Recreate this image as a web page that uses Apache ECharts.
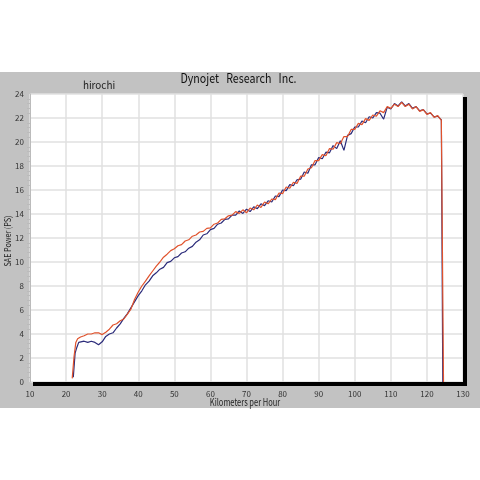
<!DOCTYPE html>
<html>
<head>
<meta charset="utf-8">
<script src="https://cdn.jsdelivr.net/npm/echarts@6/dist/echarts.min.js"></script>
<style>html,body{margin:0;padding:0;background:#fff;}#c{width:480px;height:480px;}</style>
</head>
<body>
<div id="c"></div>
<script>
var titleText = 'Dynojet   Research   Inc.';
var runName = 'hirochi';
var xName = 'Kilometers per Hour';
var yName = 'SAE Power (PS)';
var xTicks = [10, 20, 30, 40, 50, 60, 70, 80, 90, 100, 110, 120, 130];
var yTicks = [0, 2, 4, 6, 8, 10, 12, 14, 16, 18, 20, 22, 24];

var redSpeed = [21.7, 22.2, 22.7, 23.2, 24, 25, 26, 27, 28, 29, 30, 31, 32, 33, 34, 35, 36, 37, 38, 39,
  40, 41, 42, 43, 44, 45, 46, 47, 48, 49, 50, 51, 52, 53, 54, 55, 56, 57, 58, 59,
  60, 61, 62, 63, 64, 65, 66, 67, 68, 69, 70, 71, 72, 73, 74, 75, 76, 77, 78, 79,
  80, 81, 82, 83, 84, 85, 86, 87, 88, 89, 90, 91, 92, 93, 94, 95, 96, 97, 98, 99,
  100, 101, 102, 103, 104, 105, 106, 107, 108, 109, 110, 111, 112, 113, 114, 115, 116, 117, 118, 119,
  120, 121, 122, 123, 124, 124.3, 124.6];
var redPower = [0.3, 2.1, 3.3, 3.6, 3.75, 3.85, 4.0, 4.0, 4.1, 4.1, 3.95, 4.15, 4.4, 4.75, 4.85, 5.1, 5.25, 5.65, 6.1, 6.9,
  7.5, 8.0, 8.4, 8.85, 9.25, 9.65, 10.0, 10.4, 10.65, 10.95, 11.1, 11.35, 11.45, 11.75, 11.85, 12.15, 12.25, 12.5, 12.55, 12.8,
  12.85, 13.15, 13.25, 13.55, 13.6, 13.85, 13.9, 14.2, 14.05, 14.35, 14.1, 14.5, 14.35, 14.75, 14.55, 15.0, 14.85, 15.25, 15.2, 15.75,
  15.7, 16.25, 16.15, 16.65, 16.55, 17.15, 17.15, 17.75, 17.85, 18.45, 18.45, 18.95, 18.85, 19.45, 19.4, 19.95, 19.85, 20.45, 20.45, 21.05,
  21.05, 21.55, 21.45, 21.95, 21.8, 22.25, 22.15, 22.6, 22.45, 22.95, 22.8, 23.15, 22.95, 23.3, 22.95, 23.15, 22.75, 22.95, 22.55, 22.7,
  22.3, 22.45, 22.05, 22.2, 21.8, 21.7, 0];

var blueSpeed = [22, 22.5, 23, 23.5, 24, 25, 26, 27, 28, 29, 30, 31, 32, 33, 34, 35, 36, 37, 38, 39,
  40, 41, 42, 43, 44, 45, 46, 47, 48, 49, 50, 51, 52, 53, 54, 55, 56, 57, 58, 59,
  60, 61, 62, 63, 64, 65, 66, 67, 68, 69, 70, 71, 72, 73, 74, 75, 76, 77, 78, 79,
  80, 81, 82, 83, 84, 85, 86, 87, 88, 89, 90, 91, 92, 93, 94, 95, 96, 97, 98, 99,
  100, 101, 102, 103, 104, 105, 106, 107, 108, 109, 110, 111, 112, 113, 114, 115, 116, 117, 118, 119,
  120, 121, 122, 123, 124, 124.2, 124.4];
var bluePower = [0.4, 2.4, 2.9, 3.3, 3.35, 3.4, 3.3, 3.4, 3.3, 3.1, 3.35, 3.8, 4.0, 4.1, 4.5, 4.85, 5.3, 5.7, 6.2, 6.7,
  7.2, 7.6, 8.1, 8.4, 8.85, 9.1, 9.4, 9.55, 9.95, 10.05, 10.35, 10.45, 10.75, 10.85, 11.15, 11.3, 11.65, 11.85, 12.25, 12.35,
  12.7, 12.8, 13.15, 13.25, 13.55, 13.6, 13.9, 13.9, 14.25, 14.05, 14.4, 14.2, 14.6, 14.45, 14.85, 14.7, 15.1, 15.0, 15.5, 15.45,
  16.0, 15.95, 16.45, 16.35, 16.85, 16.9, 17.5, 17.4, 18.1, 18.1, 18.7, 18.6, 19.15, 19.1, 19.7, 19.45, 20.1, 19.3, 20.55, 20.7,
  21.25, 21.25, 21.75, 21.6, 22.1, 22.0, 22.45, 22.4, 21.9, 22.9, 22.75, 23.2, 23.0, 23.35, 23.0, 23.2, 22.8, 22.95, 22.6, 22.7,
  22.35, 22.4, 22.1, 22.15, 21.85, 21.7, 0];

function pairs(xs, ys) { return xs.map(function (x, i) { return [x, ys[i]]; }); }

var chart = echarts.init(document.getElementById('c'), null, {renderer: 'canvas'});
var font = '"Noto Sans CJK JP", "DejaVu Sans", sans-serif';
chart.setOption({
  animation: false,
  backgroundColor: '#ffffff',
  graphic: [
    {type: 'rect', shape: {x: 0, y: 72, width: 480, height: 336}, style: {fill: '#c2c2c2'}, z: -10, silent: true},
    {type: 'rect', shape: {x: 33, y: 382, width: 434, height: 4}, style: {fill: '#000'}, z: 10, silent: true},
    {type: 'rect', shape: {x: 463, y: 97, width: 4, height: 289}, style: {fill: '#000'}, z: 10, silent: true},
    {type: 'text', x: 238.5, y: 78, scaleX: 0.82,
     style: {text: titleText, font: '13px ' + font, fill: '#111', textAlign: 'center', textVerticalAlign: 'middle'}, z: 10},
    {type: 'text', x: 99, y: 85, scaleX: 0.9,
     style: {text: runName, font: '11px ' + font, fill: '#222', textAlign: 'center', textVerticalAlign: 'middle'}, z: 10},
    {type: 'text', x: 245, y: 402, scaleX: 0.75,
     style: {text: xName, font: '10px ' + font, fill: '#222', textAlign: 'center', textVerticalAlign: 'middle'}, z: 10},
    {type: 'text', x: 8, y: 241, rotation: Math.PI / 2, scaleX: 0.8,
     style: {text: yName, font: '9px ' + font, fill: '#222', textAlign: 'center', textVerticalAlign: 'middle'}, z: 10}
  ],
  grid: {left: 30, top: 94, right: 17, bottom: 98, show: true, backgroundColor: '#ffffff', borderWidth: 0, containLabel: false},
  xAxis: {
    type: 'value', min: xTicks[0], max: xTicks[xTicks.length - 1], interval: 10,
    axisLine: {show: false},
    axisTick: {show: false},
    minorTick: {show: true, splitNumber: 5, length: 3, lineStyle: {color: '#aaa', width: 1}},
    axisLabel: {fontSize: 8, color: '#333', margin: 8, fontFamily: font},
    splitLine: {show: true, lineStyle: {color: '#e0e0e0', width: 1.5}},
    minorSplitLine: {show: false}
  },
  yAxis: {
    type: 'value', min: yTicks[0], max: yTicks[yTicks.length - 1], interval: 2,
    axisLine: {show: true, lineStyle: {color: '#bbb', width: 1}},
    axisTick: {show: false},
    minorTick: {show: true, splitNumber: 5, length: 3, lineStyle: {color: '#bbb', width: 1}},
    axisLabel: {fontSize: 8, color: '#333', margin: 6, fontFamily: font},
    splitLine: {show: true, lineStyle: {color: '#e0e0e0', width: 1.5}}
  },
  series: [
    {type: 'line', data: pairs(blueSpeed, bluePower), showSymbol: false, symbol: 'none',
     lineStyle: {color: '#2b2b7a', width: 1.2}, z: 3},
    {type: 'line', data: pairs(redSpeed, redPower), showSymbol: false, symbol: 'none',
     lineStyle: {color: '#e0522c', width: 1.2}, z: 4}
  ]
});
</script>
</body>
</html>
